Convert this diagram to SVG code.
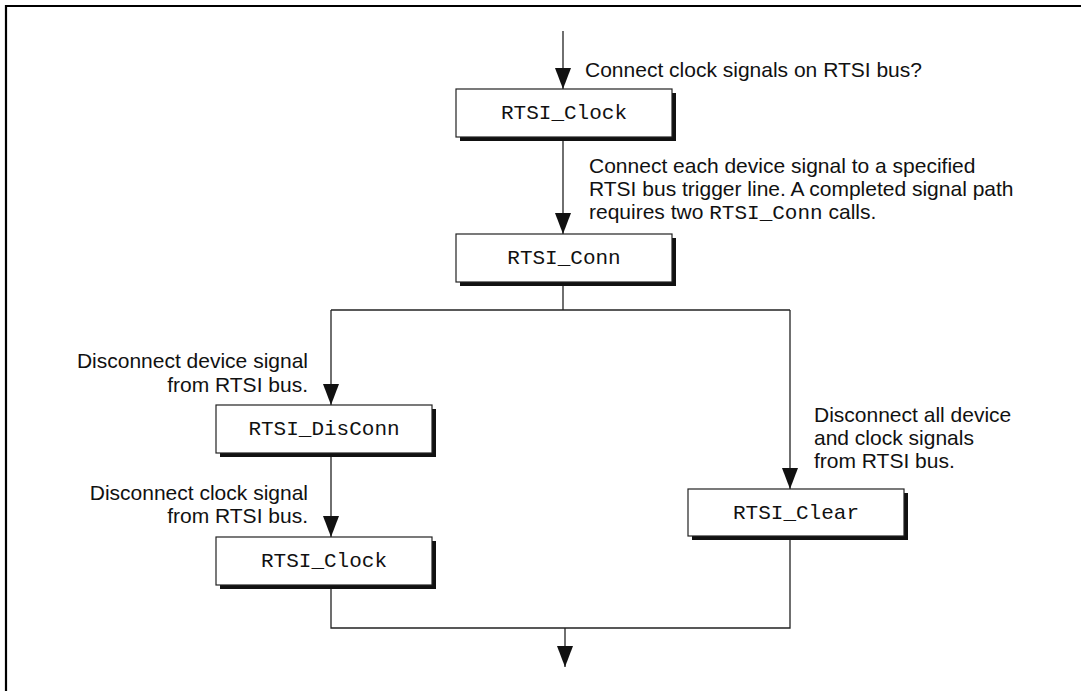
<svg xmlns="http://www.w3.org/2000/svg" width="1081" height="691" viewBox="0 0 1081 691">
<defs>
<style>
.box{fill:#fff;stroke:#222;stroke-width:1.2}
.shadow{fill:#111}
.lbl{font-family:"Liberation Mono","Courier New",monospace;font-size:21px;fill:#111;text-anchor:middle}
.txt{font-family:"Liberation Sans",Arial,Helvetica,sans-serif;font-size:21px;fill:#111}
.mono{font-family:"Liberation Mono","Courier New",monospace}
.end{text-anchor:end}
.conn{fill:none;stroke:#222;stroke-width:1.3}
.arrow{marker-end:url(#ah)}
</style>
<marker id="ah" markerUnits="userSpaceOnUse" markerWidth="21" markerHeight="16" viewBox="0 0 21 16" refX="21" refY="8" orient="auto">
<path d="M0,0 L21,8 L0,16 Z" fill="#111"/>
</marker>
</defs>
<rect width="1081" height="691" fill="#fff"/>
<path d="M6,691 L6,6 L1081,6" fill="none" stroke="#000" stroke-width="2.2"/>

<g id="connectors">
<path class="conn arrow" d="M563,31 L563,89"/>
<path class="conn arrow" d="M563,137 L563,234"/>
<path class="conn" d="M563,282 L563,310"/>
<path class="conn arrow" d="M331,310 L331,405"/>
<path class="conn arrow" d="M790,310 L790,489"/>
<path class="conn" d="M331,310 L790,310"/>
<path class="conn arrow" d="M331,453 L331,537"/>
<path class="conn" d="M331,585 L331,628 L790,628 L790,536"/>
<path class="conn arrow" d="M565,628 L565,667"/>
</g>

<g id="node-rtsi-clock-1">
<rect class="shadow" x="460" y="93" width="216" height="48"/>
<rect class="box" x="456" y="89" width="216" height="48"/>
<text class="lbl" x="564" y="119">RTSI_Clock</text>
</g>
<g id="node-rtsi-conn">
<rect class="shadow" x="460" y="238" width="216" height="48"/>
<rect class="box" x="456" y="234" width="216" height="48"/>
<text class="lbl" x="564" y="264">RTSI_Conn</text>
</g>
<g id="node-rtsi-disconn">
<rect class="shadow" x="220" y="409" width="216" height="48"/>
<rect class="box" x="216" y="405" width="216" height="48"/>
<text class="lbl" x="324" y="435">RTSI_DisConn</text>
</g>
<g id="node-rtsi-clock-2">
<rect class="shadow" x="220" y="541" width="216" height="48"/>
<rect class="box" x="216" y="537" width="216" height="48"/>
<text class="lbl" x="324" y="567">RTSI_Clock</text>
</g>
<g id="node-rtsi-clear">
<rect class="shadow" x="692" y="493" width="216" height="47"/>
<rect class="box" x="688" y="489" width="216" height="47"/>
<text class="lbl" x="796" y="519">RTSI_Clear</text>
</g>

<g id="labels">
<text class="txt" x="585" y="77">Connect clock signals on RTSI bus?</text>
<text class="txt" x="589" y="173">Connect each device signal to a specified</text>
<text class="txt" x="589" y="196">RTSI bus trigger line. A completed signal path</text>
<text class="txt" x="589" y="219">requires two <tspan class="mono">RTSI_Conn</tspan> calls.</text>
<text class="txt end" x="308" y="368">Disconnect device signal</text>
<text class="txt end" x="308" y="392">from RTSI bus.</text>
<text class="txt end" x="308" y="500">Disconnect clock signal</text>
<text class="txt end" x="308" y="523">from RTSI bus.</text>
<text class="txt" x="814" y="422">Disconnect all device</text>
<text class="txt" x="814" y="445">and clock signals</text>
<text class="txt" x="814" y="468">from RTSI bus.</text>
</g>
</svg>
